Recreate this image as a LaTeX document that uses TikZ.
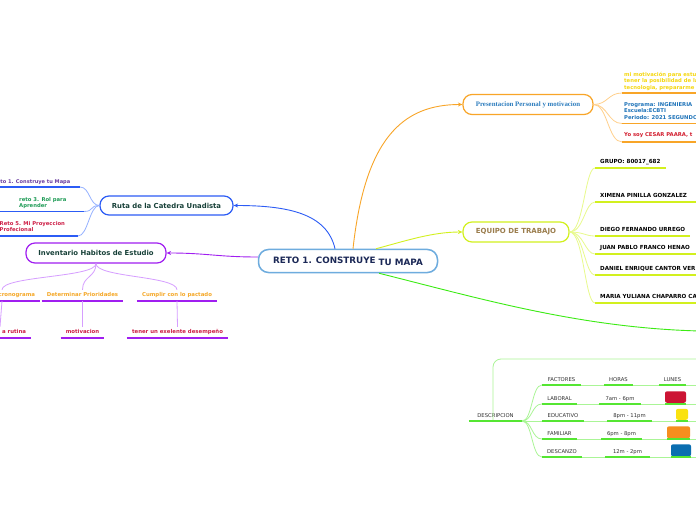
\documentclass[tikz,border=0pt]{standalone}
\usepackage{fontspec}
\setmainfont{DejaVu Sans}
\newfontfamily\presfont{Liberation Serif}
\usetikzlibrary{arrows.meta,calc,positioning}
\definecolor{mapnavy}{RGB}{27,40,86}
\definecolor{mapsky}{RGB}{110,172,222}
\definecolor{rutablue}{RGB}{44,92,245}
\definecolor{rutalight}{RGB}{150,178,255}
\definecolor{invpurple}{RGB}{160,30,240}
\definecolor{invlight}{RGB}{214,158,255}
\definecolor{presorange}{RGB}{248,165,40}
\definecolor{preslight}{RGB}{255,208,140}
\definecolor{eqlime}{RGB}{210,240,30}
\definecolor{eqlight}{RGB}{232,250,140}
\definecolor{desgreen}{RGB}{85,230,50}
\definecolor{deslight}{RGB}{170,245,150}
\definecolor{linegreen}{RGB}{60,235,20}
\definecolor{titlegreen}{RGB}{23,64,56}
\definecolor{eqbrown}{RGB}{155,125,77}
\definecolor{presblue}{RGB}{45,125,190}
\definecolor{txtyellow}{RGB}{245,215,15}
\definecolor{txtblue}{RGB}{30,115,185}
\definecolor{txtred}{RGB}{210,28,45}
\definecolor{txtpurple}{RGB}{105,60,160}
\definecolor{txtgreen}{RGB}{30,155,85}
\definecolor{txtcrimson}{RGB}{205,30,70}
\definecolor{txtorange}{RGB}{245,168,40}
\definecolor{txtgray}{RGB}{50,50,50}
\definecolor{boxred}{RGB}{204,20,52}
\definecolor{boxyellow}{RGB}{250,226,15}
\definecolor{boxorange}{RGB}{246,142,30}
\definecolor{boxblue}{RGB}{10,110,176}

\begin{document}
\begin{tikzpicture}[x=1bp, y=-1bp,
    topic/.style={draw, rounded corners=9bp, fill=white, line width=1.2bp, inner sep=0pt, font=\fontsize{6.9}{8}\selectfont\bfseries},
    lf/.style={inner sep=0pt, font=\fontsize{5.3}{6.6}\selectfont\bfseries},
    eqleaf/.style={anchor=south west, inner xsep=5bp, inner ysep=2.8bp, text height=4bp, text depth=1.2bp, text=black, font=\fontsize{5.6}{6.6}\selectfont\bfseries},
    invkid/.style={anchor=south, inner xsep=5bp, inner ysep=2.8bp, text height=4bp, text depth=1.2bp, text=txtorange, font=\fontsize{5.4}{6.6}\selectfont\bfseries},
    cell/.style={anchor=south, inner xsep=0pt, inner ysep=1.8bp, text height=3.8bp, text depth=1.2bp, text=txtgray, font=\fontsize{5.3}{6.4}\selectfont},
    cellbox/.style={anchor=south, rounded corners=2bp, inner sep=0pt},
    twig/.style={line width=0.8bp},
    uline/.style={line width=1.6bp},
    arr/.style={-{Stealth[length=4.5bp,width=4bp]}, line width=0.9bp}
  ]
  \useasboundingbox (0,0) rectangle (696,520);
  \clip (0,0) rectangle (696,520);
  \fill[white] (0,0) rectangle (696,520);
  \coordinate (redge) at (700,0);
  \coordinate (ledge) at (-4,0);

  % centro y ramas principales
  \node[topic, draw=mapsky, line width=1.5bp, minimum width=179bp, minimum height=23bp, rounded corners=10bp, text=mapnavy, font=\fontsize{8.8}{10}\selectfont\bfseries] (reto) at (348,261) {RETO 1. CONSTRUYE \raisebox{-2bp}{TU MAPA}};
  \node[topic, draw=rutablue, text=titlegreen, minimum width=133bp, minimum height=19bp] (ruta) at (166.5,205.5) {Ruta de la Catedra Unadista};
  \node[topic, draw=invpurple, text=titlegreen, minimum width=140bp, minimum height=20bp] (inv) at (96,253) {Inventario Habitos de Estudio};
  \node[topic, draw=presorange, text=presblue, minimum width=130bp, minimum height=20bp, font=\presfont\bfseries\fontsize{6.9}{8}\selectfont] (pres) at (528,104.5) {Presentacion Personal y motivacion};
  \node[topic, draw=eqlime, text=eqbrown, minimum width=106bp, minimum height=20bp, font=\fontsize{7}{8}\selectfont\bfseries] (equipo) at (516,232) {EQUIPO DE TRABAJO};

  \draw[arr, rutablue] ($(reto.north)+(-13,0)$) .. controls +(-8,-35) and +(55,0) .. (ruta.east);
  \draw[arr, invpurple] ($(reto.west)+(0,-4)$) .. controls +(-40,0) and +(40,0) .. (inv.east);
  \draw[arr, presorange] ($(reto.north)+(5,0)$) .. controls +(12,-110) and +(-60,0) .. (pres.west);
  \draw[arr, eqlime] ($(reto.north)+(28,0)$) .. controls +(30,-8) and +(-30,0) .. (equipo.west);
  \coordinate (offgreen) at (700,331);
  \draw[line width=0.9bp, linegreen] ($(reto.south)+(31,0)$) .. controls +(100,25) and +(-120,-3) .. (offgreen);

  % presentacion
  \coordinate (p1) at (622,93);
  \coordinate (p2) at (622,123.5);
  \coordinate (p3) at (622,142);
  \draw[twig, preslight] (pres.east) .. controls +(14,0) and +(-14,0) .. (p1);
  \draw[twig, preslight] (pres.east) .. controls +(14,0) and +(-14,0) .. (p2);
  \draw[twig, preslight] (pres.east) .. controls +(14,0) and +(-14,0) .. (p3);
  \draw[uline, presorange] (p1) -- (p1 -| redge);
  \draw[uline, presorange] (p2) -- (p2 -| redge);
  \draw[uline, presorange] (p3) -- (p3 -| redge);
  \node[lf, text=txtyellow, anchor=north west, align=left] (motiva) at (624,72) {mi motivación para estudiar\\tener la posibilidad de la\\tecnologia, prepararme};
  \node[lf, text=txtblue, anchor=north west, align=left] (progr) at (624,102) {Programa: INGENIERIA\\Escuela:ECBTI\\Periodo: 2021 SEGUNDO};
  \node[lf, text=txtred, anchor=base west] (yosoy) at (624,137) {Yo soy CESAR PAARA, t};

  % equipo de trabajo
  \coordinate (e1) at (595,168);
  \coordinate (e2) at (595,202);
  \coordinate (e3) at (595,236);
  \coordinate (e4) at (595,254);
  \coordinate (e5) at (595,275);
  \coordinate (e6) at (595,303);
  \draw[twig, eqlight] (equipo.east) .. controls +(14,0) and +(-10,0) .. (e1);
  \draw[twig, eqlight] (equipo.east) .. controls +(14,0) and +(-10,0) .. (e2);
  \draw[twig, eqlight] (equipo.east) .. controls +(14,0) and +(-10,0) .. (e3);
  \draw[twig, eqlight] (equipo.east) .. controls +(14,0) and +(-10,0) .. (e4);
  \draw[twig, eqlight] (equipo.east) .. controls +(14,0) and +(-10,0) .. (e5);
  \draw[twig, eqlight] (equipo.east) .. controls +(14,0) and +(-10,0) .. (e6);
  \node[eqleaf] (grupo) at (e1) {GRUPO: 80017\_682};
  \node[eqleaf] (ximena) at (e2) {XIMENA PINILLA GONZALEZ};
  \node[eqleaf] (diego) at (e3) {DIEGO FERNANDO URREGO};
  \node[eqleaf] (juan) at (e4) {JUAN PABLO FRANCO HENAO};
  \node[eqleaf] (daniel) at (e5) {DANIEL ENRIQUE CANTOR VER};
  \node[eqleaf] (maria) at (e6) {MARIA YULIANA CHAPARRO CA};
  \draw[uline, eqlime] (grupo.south west) -- (grupo.south east);
  \draw[uline, eqlime] (e2) -- (e2 -| redge);
  \draw[uline, eqlime] (diego.south west) -- (diego.south east);
  \draw[uline, eqlime] (e4) -- (e4 -| redge);
  \draw[uline, eqlime] (e5) -- (e5 -| redge);
  \draw[uline, eqlime] (e6) -- (e6 -| redge);

  % ruta de la catedra
  \coordinate (r1) at (80,187);
  \coordinate (r2) at (84,211.5);
  \coordinate (r3) at (78,236);
  \draw[twig, rutalight] (ruta.west) .. controls +(-10,0) and +(10,0) .. (r1);
  \draw[twig, rutalight] (ruta.west) .. controls +(-10,0) and +(10,0) .. (r2);
  \draw[twig, rutalight] (ruta.west) .. controls +(-10,0) and +(10,0) .. (r3);
  \draw[uline, rutablue] (r1) -- (r1 -| ledge);
  \draw[uline, rutablue] (r2) -- (r2 -| ledge);
  \draw[uline, rutablue] (r3) -- (r3 -| ledge);
  \node[lf, text=txtpurple, anchor=base east, font=\fontsize{5.1}{6.6}\selectfont\bfseries] (reto1) at (70.5,183.5) {Reto 1. Construye tu Mapa};
  \node[lf, text=txtgreen, anchor=north west, align=left] (reto3) at (19,197) {reto 3. Rol para\\Aprender};
  \node[lf, text=txtcrimson, anchor=north west, align=left] (reto5) at (-0.5,221) {Reto 5. Mi Proyeccion\\Profecional};

  % inventario de habitos
  \node[invkid, text width=66bp, align=right] (crono) at (2,301) {cronograma};
  \node[invkid, minimum width=81bp] (prior) at (82.5,301) {Determinar Prioridades};
  \node[invkid, minimum width=80bp] (pacto) at (177,301) {Cumplir con lo pactado};
  \draw[twig, invlight] (inv.south) .. controls +(0,14) and +(0,-14) .. (crono.north);
  \draw[twig, invlight] (inv.south) .. controls +(0,14) and +(0,-14) .. (prior.north);
  \draw[twig, invlight] (inv.south) .. controls +(0,14) and +(0,-14) .. (pacto.north);
  \draw[uline, invpurple] (crono.south west) -- (crono.south east);
  \draw[uline, invpurple] (prior.south west) -- (prior.south east);
  \draw[uline, invpurple] (pacto.south west) -- (pacto.south east);
  \node[invkid, text=txtcrimson, text width=52bp, align=right] (rutina) at (0,338) {a rutina};
  \node[invkid, text=txtcrimson, minimum width=43bp] (motiv) at (82.5,338) {motivacion};
  \node[invkid, text=txtcrimson, minimum width=101bp] (desemp) at (177.5,338) {tener un exelente desempeño};
  \draw[twig, invlight] (crono.south) -- (rutina.north);
  \draw[twig, invlight] (prior.south) -- (motiv.north);
  \draw[twig, invlight] (pacto.south) -- (desemp.north);
  \draw[uline, invpurple] (rutina.south west) -- (rutina.south east);
  \draw[uline, invpurple] (motiv.south west) -- (motiv.south east);
  \draw[uline, invpurple] (desemp.south west) -- (desemp.south east);

  % descripcion
  \node[cell, minimum width=53bp] (desc) at (495.5,421) {DESCRIPCION};
  \coordinate (descup) at (700,359);
  \draw[twig, deslight, rounded corners=8bp] ($(desc.south)+(-2.5,0)$) |- (descup);
  \draw[uline, desgreen] (desc.south west) -- (desc.south east);

  \node[cell, minimum width=39bp] (fact) at (561.5,385) {FACTORES};
  \node[cell, minimum width=29bp] (horas) at (618.5,385) {HORAS};
  \node[cell, minimum width=27bp] (lunes) at (672.5,385) {LUNES};
  \node[cell, minimum width=35bp] (lab) at (559.5,404) {LABORAL};
  \node[cell, minimum width=42bp] (labh) at (620,404) {7am - 6pm};
  \node[cellbox, fill=boxred, minimum width=21bp, minimum height=11.5bp] (labc) at (675.5,403) {};
  \node[cell, minimum width=42bp] (edu) at (563,421) {EDUCATIVO};
  \node[cell, minimum width=45bp] (eduh) at (629.5,421) {8pm - 11pm};
  \node[cellbox, fill=boxyellow, minimum width=12bp, minimum height=11bp] (educ) at (682,420) {};
  \node[cell, minimum width=35bp] (fam) at (559.5,439) {FAMILIAR};
  \node[cell, minimum width=41bp] (famh) at (621.5,439) {6pm - 8pm};
  \node[cellbox, fill=boxorange, minimum width=23bp, minimum height=12bp] (famc) at (678.5,438.5) {};
  \node[cell, minimum width=40bp] (desca) at (562,457) {DESCANZO};
  \node[cell, minimum width=45bp] (desch) at (627.5,457) {12m - 2pm};
  \node[cellbox, fill=boxblue, minimum width=20bp, minimum height=12bp] (descc) at (681,456.5) {};

  \draw[twig, deslight] (desc.south east) .. controls +(10,0) and +(-10,0) .. (fact.south west);
  \draw[twig, deslight] (desc.south east) .. controls +(10,0) and +(-10,0) .. (lab.south west);
  \draw[twig, deslight] (desc.south east) .. controls +(10,0) and +(-10,0) .. (edu.south west);
  \draw[twig, deslight] (desc.south east) .. controls +(10,0) and +(-10,0) .. (fam.south west);
  \draw[twig, deslight] (desc.south east) .. controls +(10,0) and +(-10,0) .. (desca.south west);

  \draw[twig, deslight] (fact.south west) -- (fact.south west -| redge);
  \draw[twig, deslight] (lab.south west) -- (lab.south west -| redge);
  \draw[twig, deslight] (edu.south west) -- (edu.south west -| redge);
  \draw[twig, deslight] (fam.south west) -- (fam.south west -| redge);
  \draw[twig, deslight] (desca.south west) -- (desca.south west -| redge);

  \draw[uline, desgreen] (fact.south west) -- (fact.south east);
  \draw[uline, desgreen] (horas.south west) -- (horas.south east);
  \draw[uline, desgreen] (lunes.south west) -- (lunes.south east);
  \draw[uline, desgreen] (lab.south west) -- (lab.south east);
  \draw[uline, desgreen] (labh.south west) -- (labh.south east);
  \draw[uline, desgreen] (labc.south west |- lab.south) -- (labc.south east |- lab.south);
  \draw[uline, desgreen] (edu.south west) -- (edu.south east);
  \draw[uline, desgreen] (eduh.south west) -- (eduh.south east);
  \draw[uline, desgreen] (educ.south west |- edu.south) -- (educ.south east |- edu.south);
  \draw[uline, desgreen] (fam.south west) -- (fam.south east);
  \draw[uline, desgreen] (famh.south west) -- (famh.south east);
  \draw[uline, desgreen] (famc.south west |- fam.south) -- (famc.south east |- fam.south);
  \draw[uline, desgreen] (desca.south west) -- (desca.south east);
  \draw[uline, desgreen] (desch.south west) -- (desch.south east);
  \draw[uline, desgreen] (descc.south west |- desca.south) -- (descc.south east |- desca.south);
\end{tikzpicture}
\end{document}
